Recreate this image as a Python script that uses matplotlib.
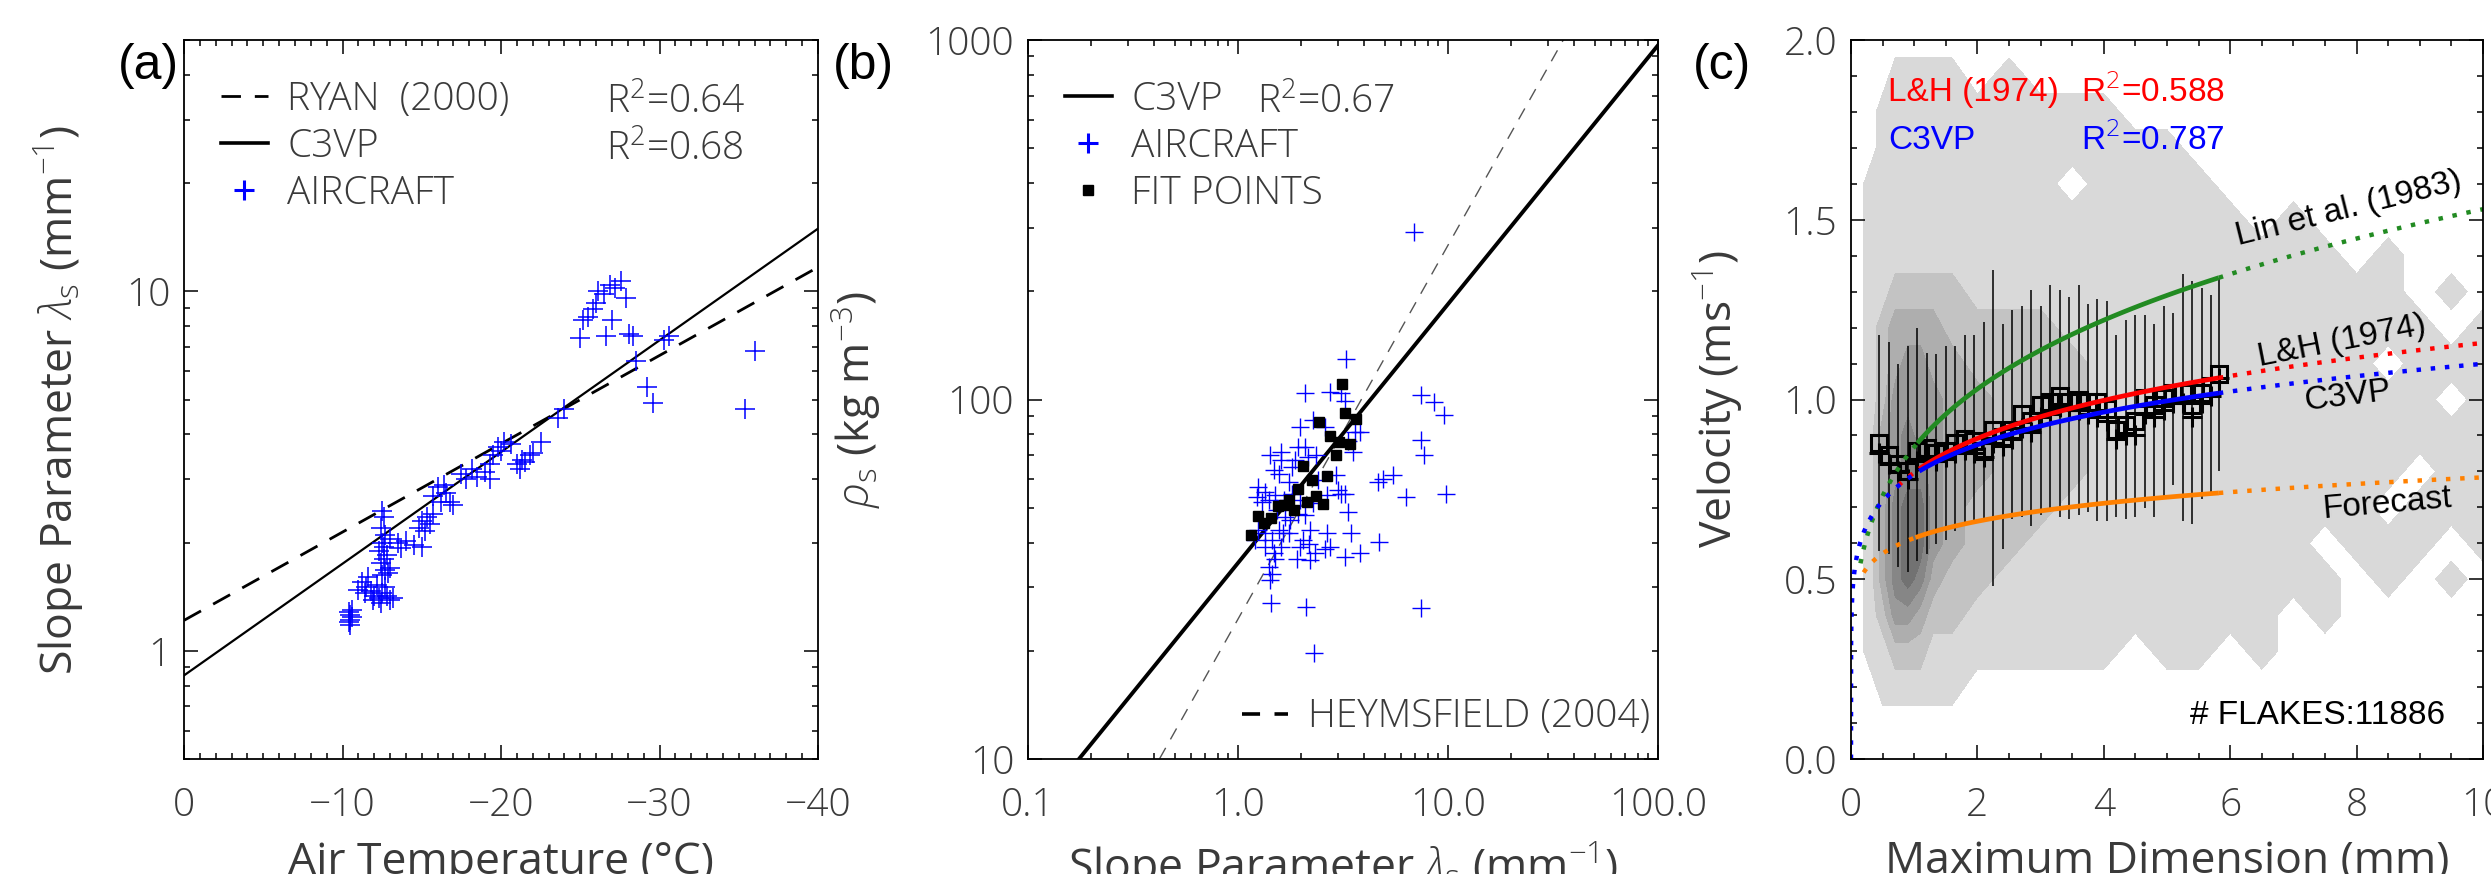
import numpy as np
import matplotlib
matplotlib.use("Agg")
import matplotlib.pyplot as plt
from matplotlib.lines import Line2D
from matplotlib.ticker import (FixedLocator, MultipleLocator, LogLocator,
                               NullFormatter, FormatStrFormatter)

plt.rcParams["font.family"] = ["Open Sans", "Roboto", "DejaVu Sans"]
plt.rcParams["font.weight"] = "light"
plt.rcParams["mathtext.fontset"] = "custom"
plt.rcParams["mathtext.rm"] = "Open Sans:light"
plt.rcParams["mathtext.it"] = "Open Sans:italic:light"
plt.rcParams["mathtext.bf"] = "Open Sans:bold"

GREY = "#3a3a3a"
HELV = ["Liberation Sans", "DejaVu Sans"]

# ---------------- panel (a) data ----------------
air_temp = [-10.4, -10.5, -10.6, -10.5, -10.4, -10.6, -10.5,
            -11.2, -11.5, -11.4, -11.8, -12.0, -12.3, -12.5, -12.8, -13.0, -11.0, -11.6, -12.2, -13.2, -12.7, -11.9, -12.4,
            -12.5, -12.6, -12.4, -12.7, -12.5, -12.3, -12.6, -12.4, -12.7, -12.5, -12.9, -13.0, -12.8, -12.6,
            -13.0, -13.5, -14.0, -14.5, -15.0, -13.7,
            -14.8, -15.0, -15.3, -15.5, -15.2, -15.7,
            -15.7, -16.2, -16.5, -16.8, -17.0, -16.0, -16.4,
            -17.5, -17.8, -18.2, -18.5, -19.0, -19.3,
            -19.5, -19.8, -20.2, -20.0, -20.6, -19.3,
            -21.0, -21.2, -21.3, -21.5, -21.8, -22.0, -22.5,
            -23.6, -24.0,
            -25.0, -25.2, -25.5, -25.8, -26.0, -26.1, -26.5, -26.6, -27.0, -27.2, -27.6, -27.9, -28.1, -28.3, -26.9,
            -28.5, -29.2, -29.6, -30.6, -30.3, -35.4, -36.0]
air_lambda = [1.20, 1.22, 1.24, 1.26, 1.28, 1.30, 1.18,
              1.55, 1.50, 1.45, 1.47, 1.42, 1.40, 1.45, 1.42, 1.38, 1.48, 1.60, 1.52, 1.40, 1.50, 1.38, 1.36,
              2.45, 2.35, 2.20, 2.10, 2.00, 1.90, 1.80, 1.75, 1.68, 1.62, 1.65, 1.70, 1.85, 1.95,
              2.05, 2.00, 2.02, 1.97, 1.95, 1.93,
              2.20, 2.30, 2.35, 2.25, 2.15, 2.40,
              2.70, 2.60, 2.75, 2.60, 2.55, 2.85, 2.90,
              3.10, 3.00, 3.20, 3.05, 3.15, 3.00,
              3.50, 3.70, 3.80, 3.60, 3.75, 3.30,
              3.30, 3.20, 3.40, 3.35, 3.50, 3.55, 3.80,
              4.45, 4.70,
              7.4, 8.3, 8.5, 8.9, 9.3, 10.0, 9.8, 7.5, 8.3, 10.2, 10.7, 9.6, 7.6, 7.5, 10.4,
              6.4, 5.4, 4.9, 7.5, 7.3, 4.7, 6.8]
# lambda = a * 10**(-b*T)
ryan_fit = (1.215, 0.02456)
c3vp_fit_a = (0.854, 0.03107)
temp_range = [0, -40]

# ---------------- panel (b) data ----------------
fit_lambda = [1.15, 1.24, 1.33, 1.44, 1.55, 1.66, 1.74, 1.84, 1.94, 2.05, 2.14, 2.24,
              2.34, 2.43, 2.55, 2.64, 2.75, 2.93, 3.04, 3.14, 3.24, 3.43, 3.63]
fit_rho = [42.1, 47.3, 45.2, 46.7, 50.6, 50.8, 52.6, 49.4, 56.4, 65.2, 51.8, 59.9,
           53.8, 86.5, 51.1, 61.1, 79.4, 69.9, 76.1, 110.5, 91.8, 75.3, 88.3]
ac_lambda = [3.28, 2.08, 2.73, 3.11, 3.22, 1.97, 2.28, 2.59, 1.94, 2.08, 1.61, 1.42,
             3.59, 3.79, 3.34, 3.53, 1.48, 1.56, 1.80, 1.74, 2.94, 2.41, 1.25, 1.35,
             1.23, 1.30, 1.40, 1.50, 1.53, 1.68, 1.77, 1.94, 2.08, 2.64, 3.11, 3.22,
             2.99, 3.34, 1.25, 1.35, 1.21, 1.45, 1.56, 1.64, 1.35, 1.48, 1.50, 2.05,
             1.97, 2.21, 2.64, 2.59, 3.46, 3.79, 1.90, 2.21, 1.40, 1.45, 1.42, 1.44,
             2.10, 2.31, 4.71, 4.63, 5.46, 6.31, 7.43, 8.59, 9.58, 7.43, 7.70, 9.75,
             7.43, 4.89, 6.9, 1.61, 1.86, 2.15, 2.35, 1.80, 1.97, 2.28, 1.66, 1.74,
             1.61, 2.18, 2.33, 2.73, 3.22]
ac_rho = [130, 104, 105, 104, 99, 83.8, 87.5, 83.8, 73.7, 73.7, 71.5, 69.9,
          81.2, 81.2, 76.9, 71.5, 63.5, 62.2, 64.9, 58.9, 61.5, 59.6, 57.0, 55.3,
          53.6, 51.9, 52.4, 54.1, 49.2, 47.1, 46.1, 48.1, 47.6, 54.1, 54.7, 54.7,
          55.9, 48.6, 43.3, 42.4, 40.6, 40.6, 43.3, 42.4, 38.9, 37.3, 36.1, 40.6,
          38.9, 43.3, 42.4, 38.5, 42.4, 37.3, 36.1, 35.7, 34.2, 32.8, 31.4, 27.1,
          26.4, 19.7, 40.2, 58.9, 61.5, 53.6, 102.6, 98.4, 90.3, 77.3, 69.9, 54.7,
          26.3, 60.2, 293, 67.8, 67.8, 69.0, 70.0, 54.7, 52.4, 51.5, 52.4, 42.4,
          38.9, 39.7, 37.3, 38.9, 36.5]
# rho = a * lambda**b
c3vp_fit_b = (35.1, 0.72)
heyms_fit = (24.5, 1.04)
lambda_range = [0.1, 100.0]

# ---------------- panel (c) data ----------------
bin_d = [0.45, 0.60, 0.75, 0.90, 1.05, 1.20, 1.35, 1.50, 1.65, 1.80, 1.95, 2.10, 2.25,
         2.40, 2.55, 2.70, 2.85, 3.00, 3.15, 3.30, 3.45, 3.60, 3.75, 3.90, 4.05, 4.20,
         4.35, 4.50, 4.65, 4.80, 4.95, 5.10, 5.25, 5.40, 5.55, 5.70, 5.82]
bin_mean = [0.878, 0.846, 0.820, 0.800, 0.858, 0.865, 0.852, 0.858, 0.878, 0.890, 0.884, 0.858, 0.916,
            0.897, 0.916, 0.960, 0.940, 0.986, 0.992, 1.011, 0.992, 0.999, 0.992, 0.992, 0.973, 0.916,
            0.929, 0.940, 1.005, 0.986, 1.005, 1.018, 1.018, 0.986, 1.018, 1.037, 1.071]
bin_median = [0.85, 0.82, 0.80, 0.78, 0.83, 0.84, 0.83, 0.84, 0.85, 0.86, 0.85, 0.84, 0.88,
              0.87, 0.89, 0.92, 0.91, 0.95, 0.96, 0.98, 0.97, 0.97, 0.96, 0.95, 0.94, 0.89,
              0.90, 0.90, 0.96, 0.95, 0.97, 0.99, 0.99, 0.95, 0.99, 1.01, 1.06]
bin_top = [1.18, 1.16, 1.10, 1.15, 1.20, 1.13, 1.126, 1.15, 1.15, 1.18, 1.18, 1.216, 1.36,
           1.21, 1.25, 1.26, 1.305, 1.26, 1.318, 1.305, 1.286, 1.318, 1.267, 1.28, 1.273, 1.18,
           1.222, 1.235, 1.235, 1.21, 1.26, 1.24, 1.35, 1.33, 1.31, 1.29, 1.337]
bin_bottom = [0.578, 0.571, 0.533, 0.52, 0.552, 0.571, 0.597, 0.61, 0.635, 0.648, 0.654, 0.661, 0.482,
              0.584, 0.667, 0.673, 0.648, 0.68, 0.686, 0.673, 0.667, 0.68, 0.686, 0.661, 0.661, 0.673,
              0.667, 0.673, 0.699, 0.673, 0.724, 0.763, 0.661, 0.654, 0.724, 0.737, 0.80]

# V = a * D**b ; (a, b, dotted start, solid start, solid end, colour)
vel_models = {
    "lin": (0.868, 0.246, 0.15, 1.05, 5.82, "#228b22"),
    "lh": (0.797, 0.162, 0.75, 1.08, 5.82, "#ff0000"),
    "c3vp": (0.792, 0.1424, 0.0, 1.08, 5.82, "#0000ff"),
    "forecast": (0.6147, 0.1053, 0.20, 1.02, 5.82, "#ff8000"),
}
d_max = 10.0

# 2-D frequency of flakes as contour class 0..6, rows from V=0.0 up to V=2.0
dens_d = [0.1, 0.3, 0.5, 0.7, 0.9, 1.1, 1.3, 1.6, 2.0, 2.5, 3.0, 3.5, 4.0, 4.5,
          5.0, 5.5, 6.0, 6.5, 7.0, 7.5, 8.0, 8.5, 9.0, 9.5, 10.0]
dens_v = [0.0, 0.1, 0.2, 0.3, 0.4, 0.5, 0.6, 0.7, 0.8, 0.9, 1.0,
          1.1, 1.2, 1.3, 1.4, 1.5, 1.6, 1.7, 1.8, 1.9, 2.0]
dens_class = [
    [0, 0, 0, 0, 0, 0, 0, 0, 0, 0, 0, 0, 0, 0, 0, 0, 0, 0, 0, 0, 0, 0, 0, 0, 0],
    [0, 0, 0, 0, 0, 0, 0, 0, 0, 0, 0, 0, 0, 0, 0, 0, 0, 0, 0, 0, 0, 0, 0, 0, 0],
    [0, 0, 1, 1, 1, 1, 1, 1, 0, 0, 0, 0, 0, 0, 0, 0, 0, 0, 0, 0, 0, 0, 0, 0, 0],
    [0, 1, 1, 2, 2, 2, 1, 1, 1, 1, 1, 1, 1, 0, 1, 1, 0, 1, 0, 0, 0, 0, 0, 0, 0],
    [0, 1, 2, 4, 4, 3, 2, 2, 1, 1, 1, 1, 1, 1, 1, 1, 1, 1, 0, 1, 0, 0, 0, 0, 0],
    [0, 1, 3, 5, 6, 5, 3, 2, 2, 1, 1, 1, 1, 1, 1, 1, 1, 1, 1, 1, 0, 1, 0, 1, 0],
    [0, 1, 3, 5, 6, 6, 4, 3, 2, 2, 1, 1, 1, 1, 1, 1, 1, 1, 1, 0, 1, 1, 1, 0, 1],
    [0, 1, 3, 5, 6, 6, 4, 3, 2, 2, 2, 1, 1, 1, 1, 1, 1, 1, 1, 1, 1, 0, 1, 1, 1],
    [0, 1, 3, 4, 5, 5, 4, 3, 3, 2, 2, 2, 1, 1, 1, 1, 1, 1, 1, 1, 1, 1, 0, 1, 1],
    [0, 1, 3, 4, 5, 4, 4, 3, 3, 2, 2, 2, 1, 1, 1, 1, 1, 1, 1, 1, 1, 1, 1, 1, 1],
    [0, 1, 2, 4, 4, 4, 4, 3, 3, 2, 2, 2, 1, 1, 1, 1, 1, 1, 1, 1, 1, 1, 1, 0, 1],
    [0, 1, 2, 3, 4, 4, 3, 3, 2, 2, 2, 2, 1, 1, 1, 1, 1, 1, 1, 1, 1, 0, 1, 1, 1],
    [0, 1, 2, 3, 3, 3, 3, 2, 2, 2, 2, 1, 1, 1, 1, 1, 1, 1, 1, 1, 1, 1, 1, 0, 1],
    [0, 1, 1, 2, 2, 2, 2, 2, 1, 1, 1, 1, 1, 1, 1, 1, 1, 1, 1, 1, 1, 1, 0, 1, 0],
    [0, 1, 1, 1, 1, 1, 1, 1, 1, 1, 1, 1, 1, 1, 1, 1, 1, 1, 1, 1, 0, 1, 0, 0, 0],
    [0, 1, 1, 1, 1, 1, 1, 1, 1, 1, 1, 1, 1, 1, 1, 1, 1, 0, 1, 0, 0, 0, 0, 0, 0],
    [0, 1, 1, 1, 1, 1, 1, 1, 1, 1, 1, 0, 1, 1, 1, 1, 0, 0, 0, 0, 0, 0, 0, 0, 0],
    [0, 0, 1, 1, 1, 1, 1, 1, 1, 1, 1, 1, 1, 1, 1, 0, 0, 0, 0, 0, 0, 0, 0, 0, 0],
    [0, 0, 1, 1, 1, 1, 1, 1, 1, 1, 1, 1, 1, 0, 0, 0, 0, 0, 0, 0, 0, 0, 0, 0, 0],
    [0, 0, 0, 1, 1, 1, 1, 1, 0, 1, 0, 0, 0, 0, 0, 0, 0, 0, 0, 0, 0, 0, 0, 0, 0],
    [0, 0, 0, 0, 0, 0, 0, 0, 0, 0, 0, 0, 0, 0, 0, 0, 0, 0, 0, 0, 0, 0, 0, 0, 0],
]
dens_colors = ["#d9d9d9", "#c3c3c3", "#aeaeae", "#9a9a9a", "#868686", "#727272"]
n_flakes = 11886

# ---------------- figure ----------------
W, H = 2491, 874
TOP, BOT = 40, 759
fig = plt.figure(figsize=(W / 100, H / 100), dpi=100)


def make_axes(x0, x1):
    return fig.add_axes([x0 / W, 1 - BOT / H, (x1 - x0) / W, (BOT - TOP) / H])


def style(ax):
    ax.tick_params(which="both", direction="in", top=True, right=True,
                   labelsize=28, labelcolor=GREY, width=1.1)
    ax.tick_params(which="major", length=10)
    ax.tick_params(which="minor", length=4.5)
    ax.tick_params(axis="x", pad=20)
    ax.tick_params(axis="y", pad=10)
    for s in ax.spines.values():
        s.set_linewidth(1.3)


def labels(ax, xlab, ylab, ylab_x):
    ax.set_xlabel(xlab, fontsize=32, color=GREY)
    ax.set_ylabel(ylab, fontsize=32, color=GREY)
    ax.xaxis.set_label_coords(0.5, -0.113)
    ax.xaxis.label.set_va("top")
    ax.yaxis.set_label_coords(ylab_x, 0.5)


def ax_frac(ax, px, py):
    # figure pixel -> axes fraction, for text placement only
    x0, y0, w, h = ax.get_position().bounds
    return (px / W - x0) / w, (1 - py / H - y0) / h


leg_kw = dict(frameon=False, fontsize=28, labelcolor=GREY, handlelength=1.2,
              handletextpad=0.5, labelspacing=0.22, borderpad=0, borderaxespad=0)

ax_a = make_axes(184, 818)
ax_b = make_axes(1028, 1658)
ax_c = make_axes(1851, 2483)

# ----- (a)
t = np.array(temp_range, dtype=float)
ax_a.plot(t, ryan_fit[0] * 10 ** (-ryan_fit[1] * t), color="k", lw=2.0, dashes=(7, 5))
ax_a.plot(t, c3vp_fit_a[0] * 10 ** (-c3vp_fit_a[1] * t), color="k", lw=1.6)
ax_a.plot(air_temp, air_lambda, "+", color="#0000ff", ms=14, mew=1.1)
ax_a.set_yscale("log")
ax_a.set_xlim(0, -40)
ax_a.set_ylim(0.5, 50)
ax_a.xaxis.set_major_locator(FixedLocator([0, -10, -20, -30, -40]))
ax_a.set_xticklabels(["0", "\u221210", "\u221220", "\u221230", "\u221240"])
ax_a.xaxis.set_minor_locator(MultipleLocator(1))
ax_a.yaxis.set_major_locator(FixedLocator([1, 10]))
ax_a.set_yticklabels(["1", "10"])
ax_a.yaxis.set_minor_locator(LogLocator(subs=range(2, 10)))
ax_a.yaxis.set_minor_formatter(NullFormatter())
style(ax_a)
labels(ax_a, "Air Temperature (\u00b0C)", r"Slope Parameter $\lambda_{\rm s}$ (mm$^{-1}$)", -0.155)
h_a = [Line2D([], [], color="k", lw=2.0, dashes=(7, 5)),
       Line2D([], [], color="k", lw=2.6),
       Line2D([], [], ls="none", marker="+", color="#0000ff", ms=14, mew=2.2)]
ax_a.legend(h_a, ["RYAN  (2000)", "C3VP", "AIRCRAFT"], loc="upper left",
            bbox_to_anchor=ax_frac(ax_a, 221, 80), **leg_kw)
for py, r2 in ((103, "0.64"), (150, "0.68")):
    ax_a.text(*ax_frac(ax_a, 606, py), "R$^2$=" + r2, transform=ax_a.transAxes,
              fontsize=28, color=GREY, va="center")
fig.text(148 / W, 1 - 66 / H, "(a)", fontsize=36, family=HELV, ha="center", va="center")

# ----- (b)
lam = np.array(lambda_range)
ax_b.plot(lam, heyms_fit[0] * lam ** heyms_fit[1], color="#555555", lw=1.0, dashes=(9, 7))
ax_b.plot(lam, c3vp_fit_b[0] * lam ** c3vp_fit_b[1], color="k", lw=2.8)
ax_b.plot(ac_lambda, ac_rho, "+", color="#0000ff", ms=13, mew=1.0)
ax_b.plot(fit_lambda, fit_rho, "s", color="k", ms=6.5)
ax_b.set_xscale("log")
ax_b.set_yscale("log")
ax_b.set_xlim(0.1, 100)
ax_b.set_ylim(10, 1000)
ax_b.xaxis.set_major_locator(FixedLocator([0.1, 1, 10, 100]))
ax_b.set_xticklabels(["0.1", "1.0", "10.0", "100.0"])
ax_b.yaxis.set_major_locator(FixedLocator([10, 100, 1000]))
ax_b.set_yticklabels(["10", "100", "1000"])
for axis in (ax_b.xaxis, ax_b.yaxis):
    axis.set_minor_locator(LogLocator(subs=range(2, 10)))
    axis.set_minor_formatter(NullFormatter())
style(ax_b)
labels(ax_b, r"Slope Parameter $\lambda_{\rm s}$ (mm$^{-1}$)", r"$\rho_{\rm s}$ (kg m$^{-3}$)", -0.23)
h_b = [Line2D([], [], color="k", lw=2.6),
       Line2D([], [], ls="none", marker="+", color="#0000ff", ms=14, mew=2.2),
       Line2D([], [], ls="none", marker="s", color="k", ms=7)]
leg_top = ax_b.legend(h_b, ["C3VP", "AIRCRAFT", "FIT POINTS"], loc="upper left",
                      bbox_to_anchor=ax_frac(ax_b, 1065, 80), **leg_kw)
ax_b.add_artist(leg_top)
ax_b.legend([Line2D([], [], color="k", lw=2.6, dashes=(5, 4))], ["HEYMSFIELD (2004)"],
            loc="center right", bbox_to_anchor=ax_frac(ax_b, 1650, 717), **leg_kw)
ax_b.text(*ax_frac(ax_b, 1257, 103), "R$^2$=0.67", transform=ax_b.transAxes,
          fontsize=28, color=GREY, va="center")
fig.text(863 / W, 1 - 66 / H, "(b)", fontsize=36, family=HELV, ha="center", va="center")

# ----- (c)
ax_c.contourf(dens_d, dens_v, np.array(dens_class), levels=[0.5, 1.5, 2.5, 3.5, 4.5, 5.5, 6.5],
              colors=dens_colors)
ax_c.vlines(bin_d, bin_bottom, bin_top, color="k", lw=1.1)
ax_c.plot(bin_d, bin_median, "+", color="k", ms=15, mew=2.2)
ax_c.plot(bin_d, bin_mean, "s", mfc="none", mec="k", ms=12, mew=2.2)
for key, (a, b, d0, d1, d2, col) in vel_models.items():
    if d0 == 0.0:
        dd = np.concatenate([[0.0], np.geomspace(1e-4, d1, 150)])
    else:
        dd = np.linspace(d0, d1, 60)
    ax_c.plot(dd, a * dd ** b, color=col, lw=3.2, ls=(0, (1, 2.2)))
    ds = np.linspace(d1, d2, 100)
    ax_c.plot(ds, a * ds ** b, color=col, lw=3.4, solid_capstyle="butt")
    de = np.linspace(d2, d_max, 80)
    ax_c.plot(de, a * de ** b, color=col, lw=3.2, ls=(0, (1, 2.2)))
ax_c.set_xlim(0, 10)
ax_c.set_ylim(0, 2.0)
ax_c.xaxis.set_major_locator(MultipleLocator(2))
ax_c.xaxis.set_minor_locator(MultipleLocator(0.5))
ax_c.yaxis.set_major_locator(MultipleLocator(0.5))
ax_c.yaxis.set_minor_locator(MultipleLocator(0.1))
ax_c.yaxis.set_major_formatter(FormatStrFormatter("%.1f"))
style(ax_c)
labels(ax_c, "Maximum Dimension (mm)", r"Velocity (ms$^{-1}$)", -0.168)
txt_kw = dict(transform=ax_c.transAxes, fontsize=24, family=HELV, va="center")
ax_c.text(*ax_frac(ax_c, 1888, 92), "L&H (1974)", color="#ff0000", **txt_kw)
ax_c.text(*ax_frac(ax_c, 2081, 92), "R$^2$=0.588", color="#ff0000", math_fontfamily="dejavusans", **txt_kw)
ax_c.text(*ax_frac(ax_c, 1888, 140), "C3VP", color="#0000ff", **txt_kw)
ax_c.text(*ax_frac(ax_c, 2081, 140), "R$^2$=0.787", color="#0000ff", math_fontfamily="dejavusans", **txt_kw)
ax_c.text(*ax_frac(ax_c, 2445, 716), "# FLAKES:%d" % n_flakes, color="k", ha="right", **txt_kw)
rot_kw = dict(color="k", fontsize=24, family=HELV, ha="center", va="center")
ax_c.text(7.88, 1.53, "Lin et al. (1983)", rotation=14, **rot_kw)
ax_c.text(7.77, 1.16, "L&H (1974)", rotation=11, **rot_kw)
ax_c.text(7.85, 1.01, "C3VP", rotation=7, **rot_kw)
ax_c.text(8.48, 0.71, "Forecast", rotation=5, **rot_kw)
fig.text(1722 / W, 1 - 66 / H, "(c)", fontsize=36, family=HELV, ha="center", va="center")

fig.savefig("out.png", dpi=100)
